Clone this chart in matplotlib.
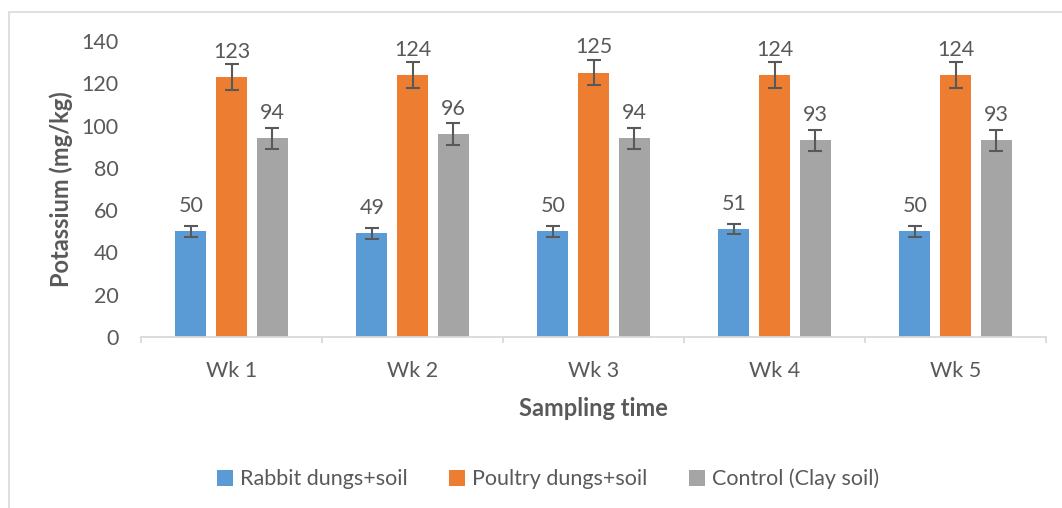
import numpy as np
import matplotlib
matplotlib.use("Agg")
import matplotlib.pyplot as plt
from matplotlib.patches import Rectangle

# dados
semanas = ["Wk 1", "Wk 2", "Wk 3", "Wk 4", "Wk 5"]
coelho = [50, 49, 50, 51, 50]
aves = [123, 124, 125, 124, 124]
controle = [94, 96, 94, 93, 93]
erro_coelho = [2.5, 2.5, 2.5, 2.5, 2.5]
erro_aves = [6, 6, 6, 6, 6]
erro_controle = [5, 5, 5, 5, 5]
nomes = ["Rabbit dungs+soil", "Poultry dungs+soil", "Control (Clay soil)"]

cores = ["#5B9BD5", "#ED7D31", "#A5A5A5"]
cinza_txt = "#595959"
cinza_eixo = "#D9D9D9"

plt.rcParams['font.family'] = ['Lato', 'DejaVu Sans']

fig = plt.figure(figsize=(10.62, 5.08), dpi=100)
ax = fig.add_axes([141/1062, 1 - 337/508, (1046-141)/1062, (337-41)/508])

# borda do grafico (so esquerda e topo aparecem)
fig.patches.append(Rectangle((8.5/1062, -0.1), 1.2, 1 - 12.5/508 + 0.1,
                             transform=fig.transFigure, fill=False,
                             edgecolor=cinza_eixo, linewidth=1.2))

x = np.arange(len(semanas))
larg = 0.17
desl = 0.225
series = [coelho, aves, controle]
erros = [erro_coelho, erro_aves, erro_controle]

for i, (vals, errs) in enumerate(zip(series, erros)):
    pos = x + (i - 1) * desl
    ax.bar(pos, vals, larg, color=cores[i], label=nomes[i], zorder=2)
    ax.errorbar(pos, vals, yerr=errs, fmt='none', ecolor=cinza_txt,
                elinewidth=1.5, capsize=5, capthick=1.5, zorder=3)
    for p, v in zip(pos, vals):
        ax.annotate(str(v), (p, v), xytext=(0, 11), textcoords='offset points',
                    ha='center', va='bottom', fontsize=15.5, color=cinza_txt)

ax.set_xlim(-0.5, len(semanas) - 0.5)
ax.set_ylim(0, 140)
ax.set_yticks(np.arange(0, 141, 20))
ax.set_xticks(x)
ax.set_xticklabels(semanas)
ax.set_xticks(np.arange(-0.5, len(semanas), 1), minor=True)

for s in ['top', 'right', 'left']:
    ax.spines[s].set_visible(False)
ax.spines['bottom'].set_color(cinza_eixo)
ax.spines['bottom'].set_linewidth(1.3)

ax.tick_params(axis='y', length=0, pad=16, labelsize=15.5, labelcolor=cinza_txt)
ax.tick_params(axis='x', which='major', length=0, pad=17, labelsize=15.5, labelcolor=cinza_txt)
ax.tick_params(axis='x', which='minor', length=4.5, width=1.3, color=cinza_eixo)

ax.set_xlabel("Sampling time", fontsize=17, fontweight='bold', color=cinza_txt, labelpad=12)
ax.set_ylabel("Potassium (mg/kg)", fontsize=17, fontweight='bold', color=cinza_txt, labelpad=6)

fig.legend(loc='center', bbox_to_anchor=(548/1062, 1 - 479/508), ncol=3, frameon=False,
           fontsize=15.5, labelcolor=cinza_txt, handlelength=0.75, handleheight=0.75,
           handletextpad=0.35, columnspacing=1.9)

fig.savefig("out.png", dpi=100)
